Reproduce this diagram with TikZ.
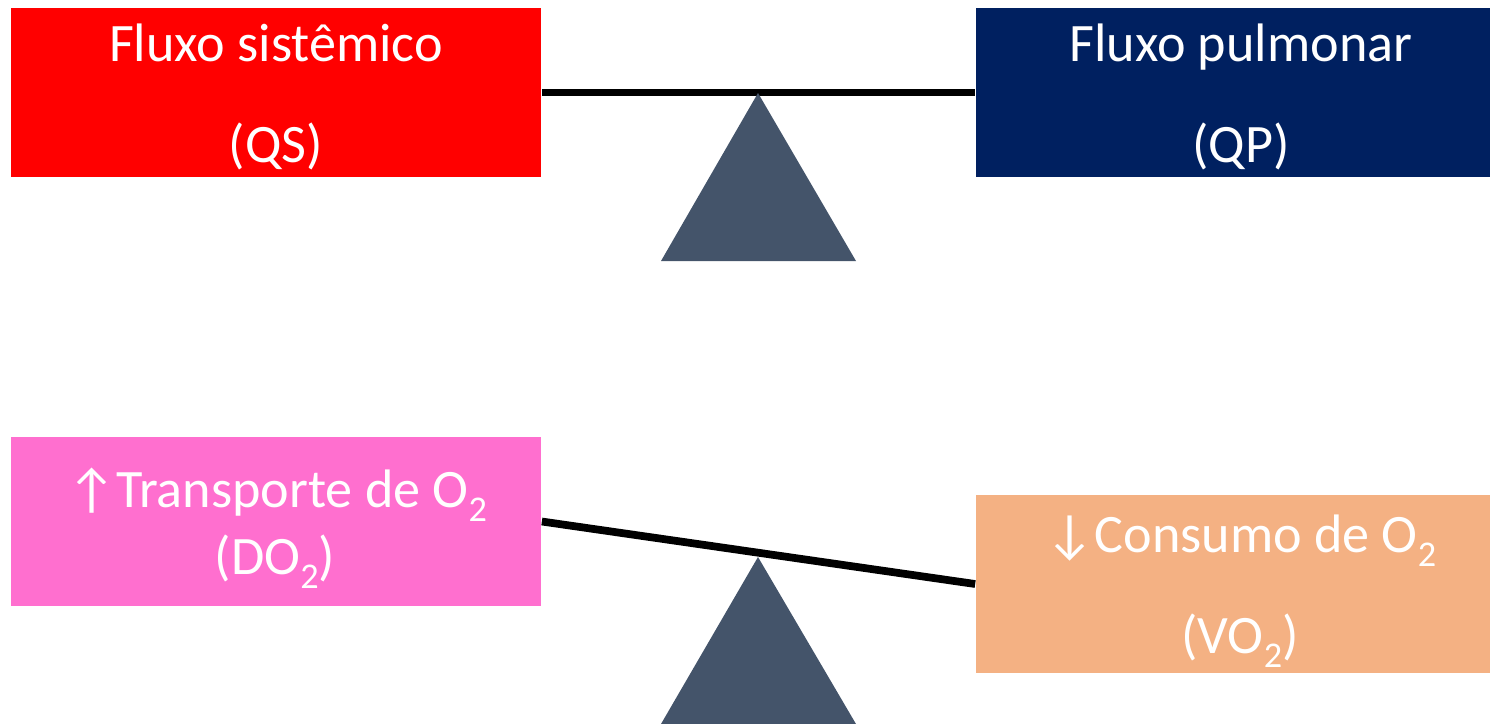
\documentclass[tikz,border=0pt]{standalone}
\usepackage{fontspec}
\setmainfont{Carlito}
\definecolor{cRed}{HTML}{FF0000}
\definecolor{cBlue}{HTML}{002060}
\definecolor{cPink}{HTML}{FF6FCF}
\definecolor{cOrange}{HTML}{F4B183}
\definecolor{cTri}{HTML}{44546A}
\newcommand\osub[1]{\raisebox{-0.26em}{\fontsize{10.3pt}{12pt}\selectfont #1}}
\tikzset{
  box/.style={rectangle, draw=none, inner sep=0pt},
  txt/.style={text=white, inner sep=0pt, anchor=base, font=\fontsize{15.4pt}{18.5pt}\selectfont},
  beam/.style={line width=2.2pt, black},
  fulcrum/.style={fill=cTri}
}
\begin{document}
\begin{tikzpicture}[x=0.01cm, y=-0.01cm]
\useasboundingbox (0,0) rectangle (1490,724);
\clip (0,0) rectangle (1490,724);
% boxes
\node[box, fill=cRed, minimum width=5.30cm, minimum height=1.69cm] (qs) at (276,92.5) {};
\node[box, fill=cBlue, minimum width=5.29cm, minimum height=1.69cm] (qp) at (1240.5,92.5) {};
\node[box, fill=cPink, minimum width=5.30cm, minimum height=1.69cm] (do2) at (276,521.5) {};
\node[box, fill=cOrange, minimum width=5.29cm, minimum height=1.78cm] (vo2) at (1240.5,584) {};
% beams
\draw[beam] (qs.east) -- (qp.west);
\draw[beam] (do2.east) -- (vo2.west);
% fulcrums
\fill[fulcrum] (758,93) -- (856,261) -- (661,261) -- cycle;
\fill[fulcrum] (758,557) -- (856,724) -- (661,724) -- cycle;
% texts
\node[txt] (qs1) at (276,61) {Fluxo sistêmico};
\node[txt] (qs2) at (276,162) {(QS)};
\node[txt] (qp1) at (1241,61) {Fluxo pulmonar};
\node[txt] (qp2) at (1241,162) {(QP)};
\node[txt] (do21) at (277,507) {↑Transporte de O\osub{2}};
\node[txt] (do22) at (275,574) {(DO\osub{2})};
\node[txt] (vo21) at (1241,552) {↓Consumo de O\osub{2}};
\node[txt] (vo22) at (1240,653) {(VO\osub{2})};
\end{tikzpicture}
\end{document}
